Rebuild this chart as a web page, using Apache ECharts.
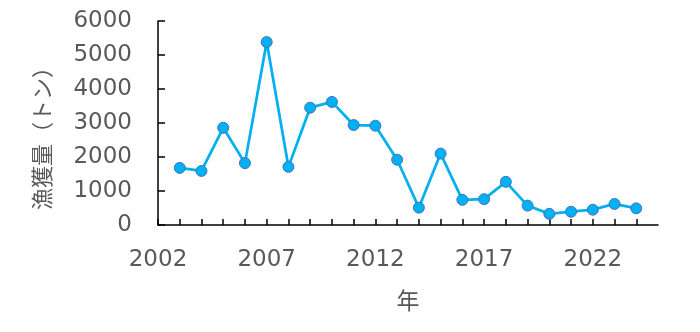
<!DOCTYPE html>
<html>
<head>
<meta charset="utf-8">
<script src="https://cdn.jsdelivr.net/npm/echarts@6/dist/echarts.min.js"></script>
<style>html,body{margin:0;padding:0;background:#fff;}#c{width:700px;height:332px;}</style>
</head>
<body>
<div id="c"></div>
<script>
const years = [2003,2004,2005,2006,2007,2008,2009,2010,2011,2012,2013,2014,2015,2016,2017,2018,2019,2020,2021,2022,2023,2024];
const catch_t = [1680,1590,2860,1820,5380,1710,3450,3620,2940,2920,1920,510,2100,740,760,1270,570,330,390,450,620,490];
const xLabels = [2002,2007,2012,2017,2022];
const yTicks = [0,1000,2000,3000,4000,5000,6000];

const chart = echarts.init(document.getElementById('c'), null, {renderer:'canvas'});
const font = "'DejaVu Sans', Verdana, 'Noto Sans CJK JP', sans-serif";
const cjk = "'Noto Sans CJK JP', sans-serif";
chart.setOption({
  animation:false,
  grid:{left:158,right:42,top:21,bottom:107},
  xAxis:{
    type:'value', min:2002, max:2025, interval:1,
    name:'年', nameLocation:'middle', nameGap:64,
    nameTextStyle:{fontFamily:cjk,fontSize:23,color:'#595959'},
    axisLine:{lineStyle:{color:'#000',width:1.5}},
    axisTick:{show:true,inside:true,length:6,lineStyle:{color:'#000',width:1.5}},
    splitLine:{show:false},
    axisLabel:{
      fontFamily:font,fontSize:23,color:'#595959',margin:24,
      showMaxLabel:false,
      formatter:function(v){return xLabels.indexOf(v)>=0?String(v):'';}
    }
  },
  yAxis:{
    type:'value', min:yTicks[0], max:yTicks[yTicks.length-1], interval:1000,
    name:'漁獲量（トン）', nameLocation:'middle', nameGap:105,
    nameTextStyle:{fontFamily:cjk,fontSize:22,color:'#595959',padding:[0,20,0,0]},
    axisLine:{show:true,lineStyle:{color:'#000',width:1.5}},
    axisTick:{show:true,inside:true,length:7,lineStyle:{color:'#000',width:1.5}},
    splitLine:{show:false},
    axisLabel:{fontFamily:font,fontSize:23,color:'#595959',margin:26,
      formatter:function(v){return String(v);}}
  },
  series:[{
    type:'line',
    data:years.map((y,i)=>[y,catch_t[i]]),
    lineStyle:{color:'#00B0F0',width:2.75},
    symbol:'circle', symbolSize:11,
    itemStyle:{color:'#00B0F0',borderColor:'#4472C4',borderWidth:1}
  }]
});
</script>
</body>
</html>
